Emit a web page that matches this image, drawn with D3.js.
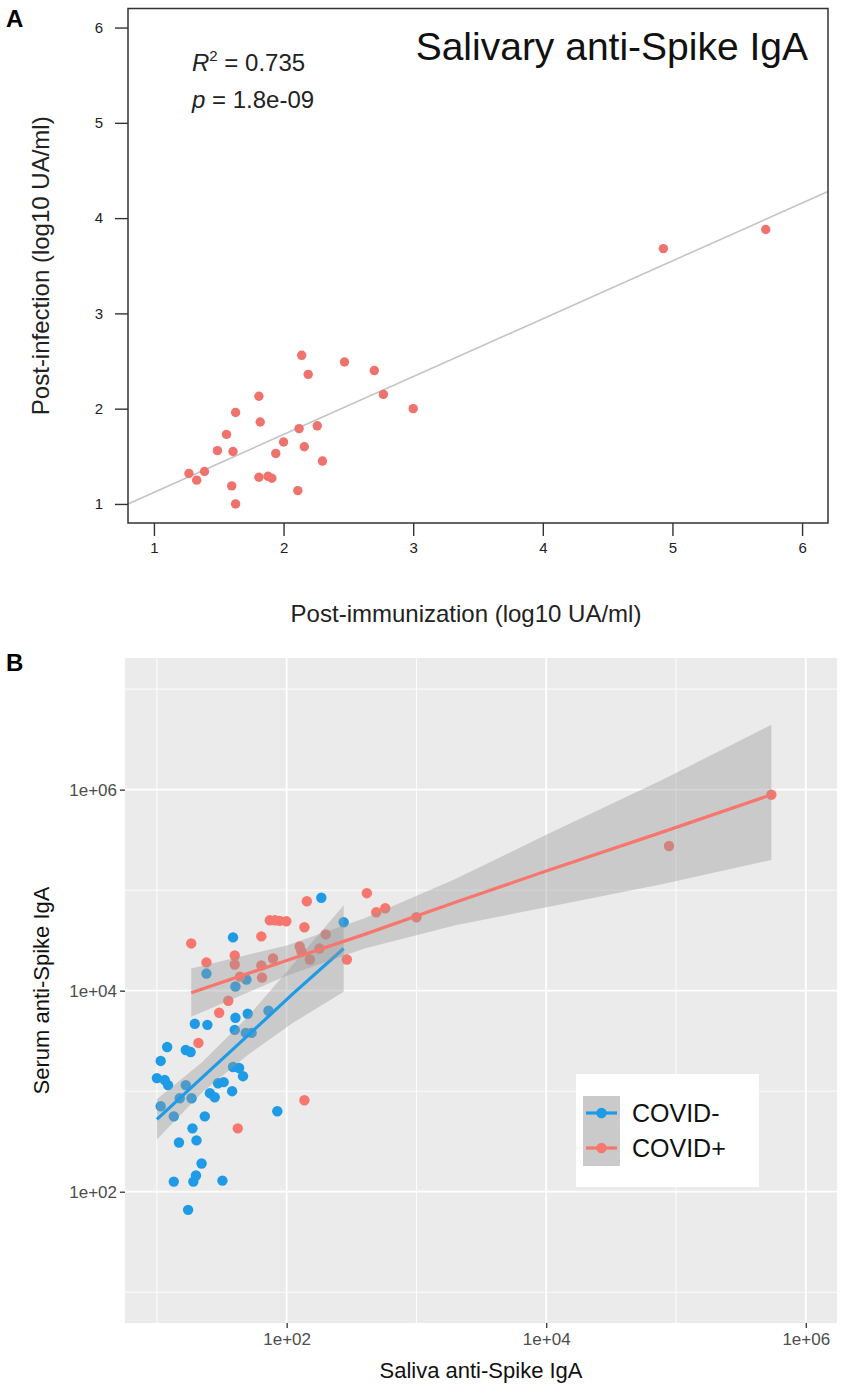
<!DOCTYPE html>
<html>
<head>
<meta charset="utf-8">
<script src="https://cdn.jsdelivr.net/npm/d3@7"></script>
<style>
  body { margin: 0; background: #fff; }
  text { font-family: "Liberation Sans", Arial, sans-serif; }
</style>
</head>
<body>
<div id="chart"></div>
<script>
// Panel A: salivary anti-Spike IgA, post-immunization vs post-infection (log10 UA/ml)
const immunA = [2.14, 2.47, 2.70, 2.19, 1.81, 2.77, 3.00, 1.63, 1.82, 1.56, 2.12, 2.26, 2.00, 1.49,
  1.61, 1.94, 2.16, 2.30, 1.27, 1.39, 1.33, 1.81, 1.88, 1.91, 1.60, 2.11, 1.63, 4.93, 5.72];
const infectA = [2.56, 2.49, 2.40, 2.36, 2.13, 2.15, 2.00, 1.96, 1.86, 1.73, 1.79, 1.82, 1.65, 1.56,
  1.55, 1.53, 1.60, 1.45, 1.32, 1.34, 1.25, 1.28, 1.29, 1.27, 1.19, 1.14, 1.00, 3.68, 3.88];
const fitAx = [0.8, 6.2];
const fitAy = [1.0, 4.28];
const ticksA = [1, 2, 3, 4, 5, 6];

// Panel B: saliva vs serum anti-Spike IgA
const groups = ["COVID-", "COVID+"];
const salivaNeg = [185, 275, 38.6, 24.1, 40.3, 49.0, 19.6, 24.5, 40.3, 50.1, 39.8, 48.4, 53.7, 72.4,
  12.0, 10.7, 16.7, 18.2, 10.0, 11.5, 12.2, 16.7, 38.6, 43.0, 46.1, 15.0, 18.5, 25.6, 27.9, 29.6,
  32.7, 38.0, 10.7, 13.5, 23.4, 84.7, 18.8, 14.8, 20.2, 22.1, 13.5, 19.1, 20.0, 32.0, 17.4];
const serumNeg = [84100, 47900, 33900, 14800, 11000, 12900, 4680, 4570, 5370, 5890, 4070, 3800, 3800, 6310,
  2750, 2000, 2570, 2450, 1350, 1290, 1150, 1150, 1740, 1700, 1410, 851, 851, 955, 871, 1200,
  1230, 1000, 708, 562, 562, 631, 427, 309, 324, 191, 126, 126, 145, 129, 66];
const salivaPos = [18.4, 24.1, 39.8, 39.8, 43.7, 35.5, 30.2, 20.9, 63.8, 63.8, 64.6, 78.5, 74.1, 81.3,
  88.3, 99.3, 143, 137, 126, 130, 151, 179, 200, 291, 415, 490, 575, 137, 42.0, 1000, 88300, 543000];
const serumPos = [29500, 19100, 22400, 18200, 13800, 7940, 6030, 3020, 34700, 17800, 13500, 20900, 50100, 50100,
  49500, 49000, 77600, 42700, 27500, 24500, 20400, 26300, 36300, 20400, 93300, 60300, 66100, 813, 427, 53700, 275000, 891000];

// linear fits (log-log) with confidence bands
const bandNegX = [10, 22.4, 50.1, 112, 275];
const bandNegLo = [331, 977, 2290, 4790, 9770];
const bandNegHi = [832, 1950, 5500, 18200, 70800];
const fitNegY = [525, 1370, 3570, 9330, 26300];
const bandPosX = [18.4, 100, 398, 1995, 10000, 79400, 543000];
const bandPosLo = [5500, 14100, 26300, 44700, 67600, 115000, 200000];
const bandPosHi = [16600, 28200, 52500, 129000, 355000, 1260000, 4420000];
const fitPosY = [9550, 20000, 36300, 75900, 155000, 380000, 891000];

const majorB = [1e2, 1e4, 1e6];
const minorBx = [1e1, 1e3, 1e5];
const minorBy = [1e1, 1e3, 1e5, 1e7];

const colNeg = "#1E9BE6";
const colPos = "#F8766D";

const width = 846, height = 1393;
const svg = d3.select("#chart").append("svg")
  .attr("width", width).attr("height", height);

// ---------- Panel A ----------
const xA = d3.scaleLinear().domain([0.8, 6.2]).range([128, 828]);
const yA = d3.scaleLinear().domain([0.8, 6.2]).range([523, 8.5]);

const gA = svg.append("g");

gA.append("line")
  .attr("x1", xA(fitAx[0])).attr("y1", yA(fitAy[0]))
  .attr("x2", xA(fitAx[1])).attr("y2", yA(fitAy[1]))
  .attr("stroke", "#c4c4c4").attr("stroke-width", 1.6);

gA.selectAll("circle")
  .data(immunA.map((v, i) => [v, infectA[i]]))
  .enter().append("circle")
  .attr("cx", d => xA(d[0])).attr("cy", d => yA(d[1]))
  .attr("r", 4.7).attr("fill", "#EF726D");

gA.append("rect")
  .attr("x", xA(0.8)).attr("y", yA(6.2))
  .attr("width", xA(6.2) - xA(0.8)).attr("height", yA(0.8) - yA(6.2))
  .attr("fill", "none").attr("stroke", "#333").attr("stroke-width", 1.5);

const axA_x = gA.append("g")
  .attr("transform", `translate(0,${yA(0.8)})`)
  .call(d3.axisBottom(xA).tickValues(ticksA).tickSize(13).tickPadding(6).tickFormat(d3.format("d")));
const axA_y = gA.append("g")
  .attr("transform", `translate(${xA(0.8)},0)`)
  .call(d3.axisLeft(yA).tickValues(ticksA).tickSize(13).tickPadding(12).tickFormat(d3.format("d")));
[axA_x, axA_y].forEach(a => {
  a.select(".domain").remove();
  a.selectAll(".tick line").attr("stroke", "#333").attr("stroke-width", 1.4);
  a.selectAll(".tick text").attr("font-size", 15).attr("fill", "#222")
    .attr("font-family", "Liberation Sans, Arial, sans-serif");
});

// R^2 and p annotations
const rt = gA.append("text").attr("x", 192).attr("y", 71).attr("font-size", 24).attr("fill", "#222");
rt.append("tspan").attr("font-style", "italic").text("R");
rt.append("tspan").attr("font-size", 15).attr("dy", -10).text("2");
rt.append("tspan").attr("dy", 10).text(" = 0.735");
const pt = gA.append("text").attr("x", 192).attr("y", 108).attr("font-size", 24).attr("fill", "#222");
pt.append("tspan").attr("font-style", "italic").text("p");
pt.append("tspan").text(" = 1.8e-09");

gA.append("text")
  .attr("x", 808).attr("y", 60).attr("text-anchor", "end")
  .attr("font-family", "Lato, sans-serif").attr("font-size", 39).attr("fill", "#111")
  .text("Salivary anti-Spike IgA");

gA.append("text")
  .attr("x", 466).attr("y", 622).attr("text-anchor", "middle")
  .attr("font-size", 24).attr("fill", "#222")
  .text("Post-immunization (log10 UA/ml)");
gA.append("text")
  .attr("transform", `translate(49,${(yA(0.8) + yA(6.2)) / 2}) rotate(-90)`)
  .attr("text-anchor", "middle").attr("font-size", 24).attr("fill", "#222")
  .text("Post-infection (log10 UA/ml)");

svg.append("text").attr("x", 6).attr("y", 27)
  .attr("font-size", 24).attr("font-weight", "bold").text("A");

// ---------- Panel B ----------
const xB = d3.scaleLog().domain([5.68, 1.74e6]).range([125, 837]);
const yB = d3.scaleLog().domain([4.94, 2.04e7]).range([1323, 658]);

const gB = svg.append("g");
gB.append("rect")
  .attr("x", xB.range()[0]).attr("y", yB.range()[1])
  .attr("width", xB.range()[1] - xB.range()[0])
  .attr("height", yB.range()[0] - yB.range()[1])
  .attr("fill", "#EBEBEB");

// grid
gB.selectAll(".minx").data(minorBx).enter().append("line")
  .attr("x1", d => xB(d)).attr("x2", d => xB(d))
  .attr("y1", yB.range()[1]).attr("y2", yB.range()[0])
  .attr("stroke", "#fff").attr("stroke-width", 0.9);
gB.selectAll(".miny").data(minorBy).enter().append("line")
  .attr("y1", d => yB(d)).attr("y2", d => yB(d))
  .attr("x1", xB.range()[0]).attr("x2", xB.range()[1])
  .attr("stroke", "#fff").attr("stroke-width", 0.9);
gB.selectAll(".majx").data(majorB).enter().append("line")
  .attr("x1", d => xB(d)).attr("x2", d => xB(d))
  .attr("y1", yB.range()[1]).attr("y2", yB.range()[0])
  .attr("stroke", "#fff").attr("stroke-width", 1.8);
gB.selectAll(".majy").data(majorB).enter().append("line")
  .attr("y1", d => yB(d)).attr("y2", d => yB(d))
  .attr("x1", xB.range()[0]).attr("x2", xB.range()[1])
  .attr("stroke", "#fff").attr("stroke-width", 1.8);

// points
const ptsNeg = salivaNeg.map((v, i) => [v, serumNeg[i]]);
const ptsPos = salivaPos.map((v, i) => [v, serumPos[i]]);
gB.selectAll(".pneg").data(ptsNeg).enter().append("circle")
  .attr("cx", d => xB(d[0])).attr("cy", d => yB(d[1])).attr("r", 5.2).attr("fill", colNeg);
gB.selectAll(".ppos").data(ptsPos).enter().append("circle")
  .attr("cx", d => xB(d[0])).attr("cy", d => yB(d[1])).attr("r", 5.2).attr("fill", colPos);

// smooths: ribbon then line, per group
const area = d3.area().x(d => xB(d[0])).y0(d => yB(d[1])).y1(d => yB(d[2]));
const line = d3.line().x(d => xB(d[0])).y(d => yB(d[1]));
function smooth(xs, lo, hi, fit, col) {
  gB.append("path")
    .datum(xs.map((x, i) => [x, lo[i], hi[i]]))
    .attr("d", area).attr("fill", "#999").attr("fill-opacity", 0.4);
  gB.append("path")
    .datum(xs.map((x, i) => [x, fit[i]]))
    .attr("d", line).attr("fill", "none").attr("stroke", col).attr("stroke-width", 3.2);
}
smooth(bandNegX, bandNegLo, bandNegHi, fitNegY, colNeg);
smooth(bandPosX, bandPosLo, bandPosHi, fitPosY, colPos);

// axes
const fmtE = d => "1e+" + String(Math.round(Math.log10(d))).padStart(2, "0");
const axB_x = gB.append("g")
  .attr("transform", `translate(0,${yB.range()[0]})`)
  .call(d3.axisBottom(xB).tickValues(majorB).tickSize(5).tickPadding(5).tickFormat(fmtE));
const axB_y = gB.append("g")
  .attr("transform", `translate(${xB.range()[0]},0)`)
  .call(d3.axisLeft(yB).tickValues(majorB).tickSize(5).tickPadding(3).tickFormat(fmtE));
[axB_x, axB_y].forEach(a => {
  a.select(".domain").remove();
  a.selectAll(".tick line").attr("stroke", "#333").attr("stroke-width", 1.3);
  a.selectAll(".tick text").attr("font-size", 17).attr("fill", "#4D4D4D")
    .attr("font-family", "Liberation Sans, Arial, sans-serif");
});

gB.append("text")
  .attr("x", (xB.range()[0] + xB.range()[1]) / 2).attr("y", 1378)
  .attr("text-anchor", "middle").attr("font-size", 22).attr("fill", "#111")
  .text("Saliva anti-Spike IgA");
gB.append("text")
  .attr("transform", `translate(49,${(yB.range()[0] + yB.range()[1]) / 2}) rotate(-90)`)
  .attr("text-anchor", "middle").attr("font-size", 22).attr("fill", "#111")
  .text("Serum anti-Spike IgA");

// legend
const leg = gB.append("g").attr("transform", "translate(576,1074)");
leg.append("rect").attr("width", 183).attr("height", 113).attr("fill", "#fff");
leg.append("rect").attr("x", 7).attr("y", 22).attr("width", 37).attr("height", 70).attr("fill", "#CACACA");
[colNeg, colPos].forEach((c, i) => {
  const cy = 39 + i * 35;
  leg.append("line").attr("x1", 10).attr("x2", 41).attr("y1", cy).attr("y2", cy)
    .attr("stroke", c).attr("stroke-width", 3.2);
  leg.append("circle").attr("cx", 25.5).attr("cy", cy).attr("r", 5.2).attr("fill", c);
  leg.append("text").attr("x", 56).attr("y", cy + 9)
    .attr("font-family", "Lato, sans-serif").attr("font-size", 25).attr("fill", "#111")
    .text(groups[i]);
});

svg.append("text").attr("x", 6).attr("y", 671)
  .attr("font-size", 24).attr("font-weight", "bold").text("B");
</script>
</body>
</html>
